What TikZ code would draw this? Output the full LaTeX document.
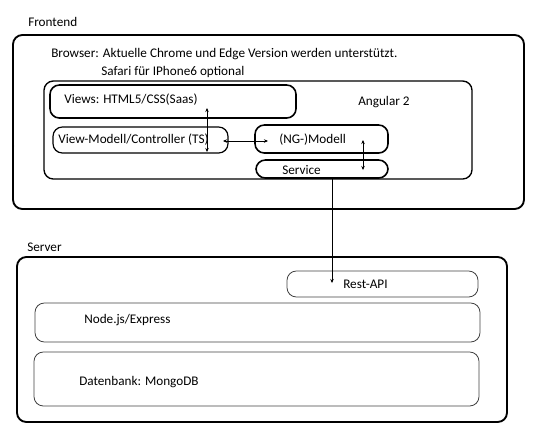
\documentclass[tikz,border=0pt]{standalone}
\usepackage{fontspec}
\setmainfont{Carlito}
\usetikzlibrary{arrows.meta,fit}

\begin{document}
\begin{tikzpicture}[x=0.75pt,y=0.75pt,yscale=-1,xscale=1,
  box/.style={draw, rounded corners=7pt, inner sep=0pt, line width=1.2pt},
  midbox/.style={draw, rounded corners=7pt, inner sep=0pt, line width=0.9pt},
  thinbox/.style={draw=black!75, rounded corners=7pt, inner sep=0pt, line width=0.6pt},
  txt/.style={anchor=west, inner sep=0.75pt, font=\fontsize{9.9}{11}\selectfont},
  link/.style={{Stealth[length=3pt,width=2.6pt]}-{Stealth[length=3pt,width=2.6pt]}, line width=0.45pt},
  call/.style={-{Stealth[length=3pt,width=2.6pt]}, line width=0.45pt}]
\useasboundingbox (0,0) rectangle (542,440);

%Shape: Frontend
\node [box, line width=1.4pt, fit={(13,35) (524,209)}] (frontend) {};
\node [midbox, line width=1pt, fit={(44,81) (472,179)}] (angular) {};
\node [box, fit={(50,85) (296,118)}] (views) {};
\node [midbox, fit={(53,127) (228,153)}] (vm) {};
\node [box, fit={(255,125) (388,153)}] (ngmodel) {};
\node [box, fit={(256,160) (388,178)}] (service) {};

%Shape: Server
\node [box, line width=1.4pt, fit={(17,257) (507,422)}] (server) {};
\node [thinbox, fit={(287,271) (478,297)}] (rest) {};
\node [thinbox, fit={(35,303) (480,342)}] (express) {};
\node [thinbox, fit={(34,352) (479,406)}] (mongo) {};

% Text Node
\node [txt] (lfrontend) at (27,22) {Frontend};
\node [txt] (lbrowser) at (50,54) {Browser: Aktuelle Chrome und Edge Version werden unterstützt.};
\node [txt] (lsafari) at (100,72) {Safari für IPhone6 optional};
\node [txt] (lviews) at (63,100) {Views: HTML5/CSS(Saas)};
\node [txt] (langular) at (357,102) {Angular 2};
\node [txt] (lvm) at (57,140) {View-Modell/Controller (TS)};
\node [txt] (lngmodel) at (278,140) {(NG-)Modell};
\node [txt] (lservice) at (281,170) {Service};
\node [txt] (lserver) at (26,247) {Server};
\node [txt] (lrest) at (342,284) {Rest-API};
\node [txt] (lexpress) at (83,320) {Node.js/Express};
\node [txt] (lmongo) at (78,382) {Datenbank: MongoDB};

%Straight Lines
\coordinate (vtop) at (207,108);
\coordinate (vbot) at (207,152);
\coordinate (hleft) at (223,141);
\coordinate (hright) at (268,141);
\coordinate (stop) at (363,140);
\coordinate (sbot) at (363,170);
\coordinate (restin) at (332,283);
\draw [link] (vtop) -- (vbot);
\draw [link] (hleft) -- (hright);
\draw [link] (stop) -- (sbot);
\draw [call] (service.south -| restin) -- (restin);

% stray dot
\fill (13.5,146) circle (0.6);

\end{tikzpicture}
\end{document}
